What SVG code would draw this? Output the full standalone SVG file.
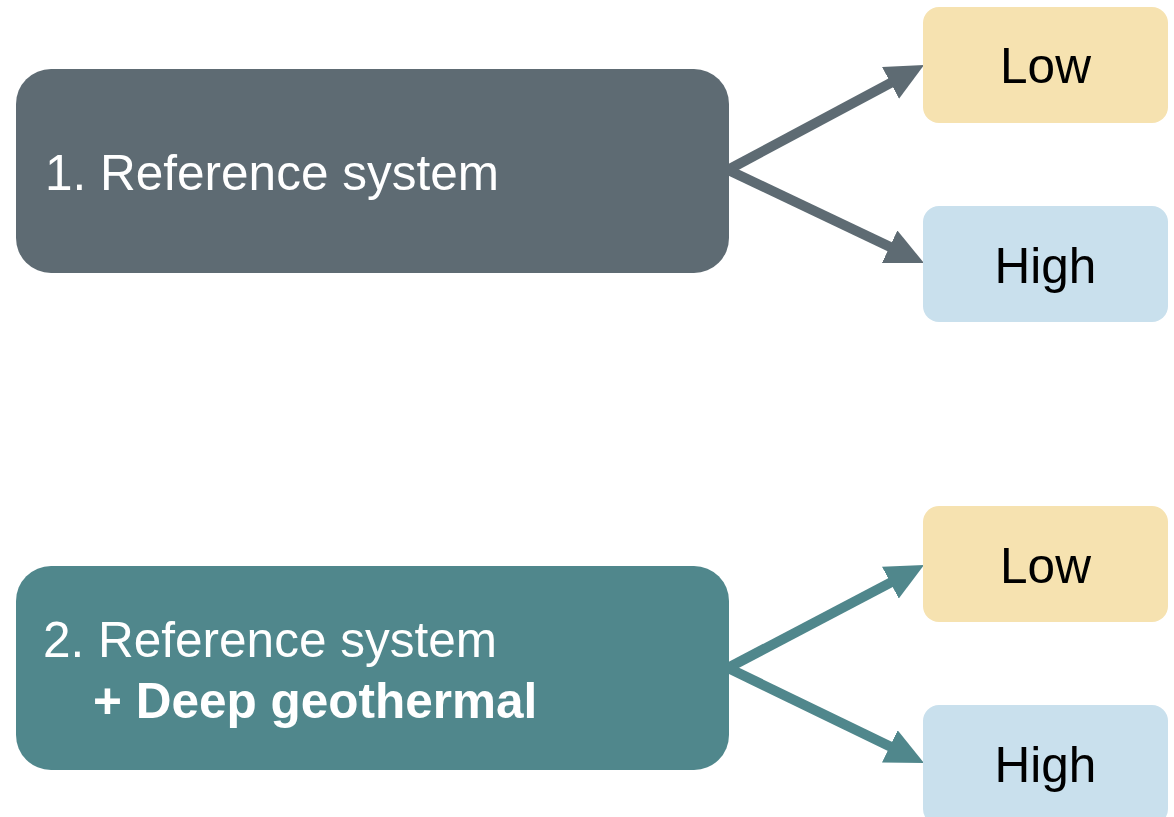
<svg xmlns="http://www.w3.org/2000/svg" width="1174" height="817" viewBox="0 0 1174 817">
<style>
.t{font-family:"Liberation Sans",Arial,sans-serif;font-size:49.5px}
.w{fill:#ffffff}
.k{fill:#000000}
.low{fill:#f6e2b0}
.high{fill:#c9e0ed}
.c1{stroke:#5e6b73;stroke-width:10;fill:none}
.c2{stroke:#50878c;stroke-width:10;fill:none}
</style>
<defs>
<marker id="h1" markerUnits="userSpaceOnUse" markerWidth="38" markerHeight="36" refX="13" refY="18" orient="auto">
<path d="M0,0 L38,18 L0,36 z" fill="#5e6b73"/>
</marker>
<marker id="h2" markerUnits="userSpaceOnUse" markerWidth="38" markerHeight="36" refX="13" refY="18" orient="auto">
<path d="M0,0 L38,18 L0,36 z" fill="#50878c"/>
</marker>
</defs>
<rect width="1174" height="817" fill="#ffffff"/>
<g id="connectors">
<line class="c1" x1="724" y1="172" x2="902" y2="76.8" marker-end="url(#h1)"/>
<line class="c1" x1="724" y1="168" x2="901.4" y2="252.3" marker-end="url(#h1)"/>
<line class="c2" x1="724" y1="670" x2="901.9" y2="576.6" marker-end="url(#h2)"/>
<line class="c2" x1="724" y1="666" x2="901.5" y2="752.1" marker-end="url(#h2)"/>
</g>
<g id="ref1">
<rect x="16" y="69" width="713" height="204" rx="35" fill="#5e6b73"/>
<text class="t w" x="45" y="190">1. Reference system</text>
</g>
<g id="low1">
<rect class="low" x="923" y="7" width="245" height="116" rx="16"/>
<text class="t k" x="1045.5" y="83" text-anchor="middle">Low</text>
</g>
<g id="high1">
<rect class="high" x="923" y="206" width="245" height="116" rx="16"/>
<text class="t k" x="1045.5" y="283" text-anchor="middle">High</text>
</g>
<g id="ref2">
<rect x="16" y="566" width="713" height="204" rx="35" fill="#50878c"/>
<text class="t w" x="43" y="657">2. Reference system</text>
<text class="t w" x="93" y="718" font-weight="bold">+ Deep geothermal</text>
</g>
<g id="low2">
<rect class="low" x="923" y="506" width="245" height="116" rx="16"/>
<text class="t k" x="1045.5" y="583" text-anchor="middle">Low</text>
</g>
<g id="high2">
<rect class="high" x="923" y="705" width="245" height="120" rx="16"/>
<text class="t k" x="1045.5" y="782" text-anchor="middle">High</text>
</g>
</svg>
